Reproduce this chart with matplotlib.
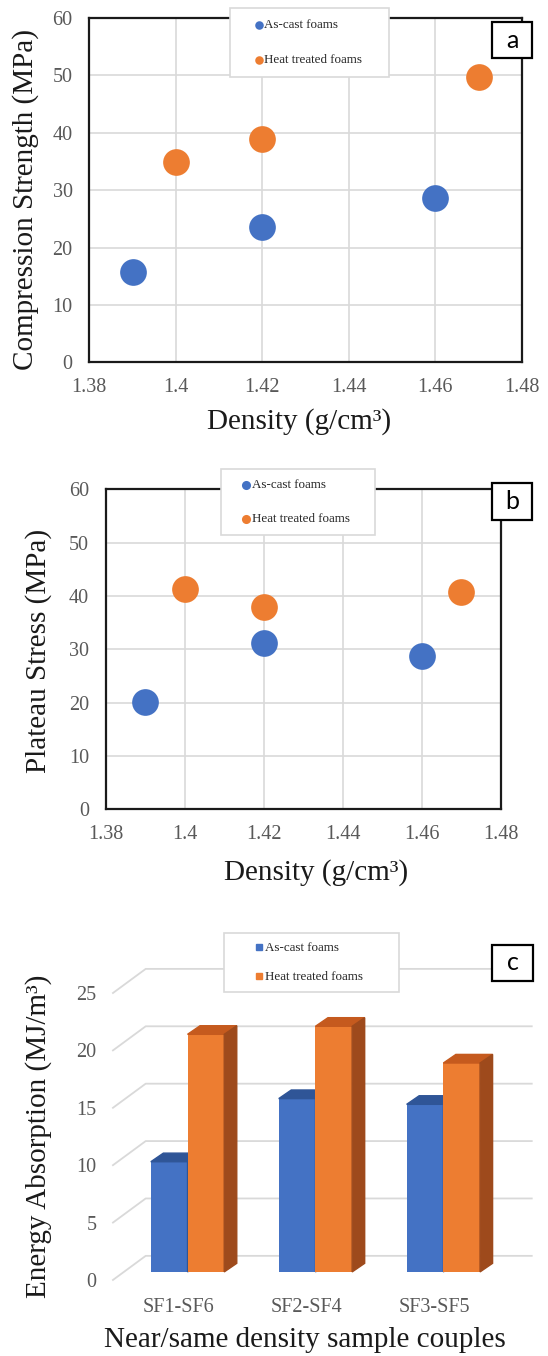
"""Foam density vs compression / plateau stress and energy absorption (3 panels)."""

import matplotlib

matplotlib.use("Agg")
import matplotlib.pyplot as plt
import numpy as np
from matplotlib.lines import Line2D
from matplotlib.patches import Polygon, Rectangle

# ---- data -----------------------------------------------------------------
density_cast = [1.39, 1.42, 1.46]
density_heat = [1.40, 1.42, 1.47]

strength_cast = [15.7, 23.5, 28.6]
strength_heat = [34.9, 39.0, 49.7]

plateau_cast = [20.2, 31.2, 28.8]
plateau_heat = [41.3, 38.0, 40.7]

couples = ["SF1-SF6", "SF2-SF4", "SF3-SF5"]
energy_cast = [9.6, 15.1, 14.6]
energy_heat = [20.7, 21.4, 18.2]

density_ticks = [1.38, 1.40, 1.42, 1.44, 1.46, 1.48]
density_tick_labels = ["1.38", "1.4", "1.42", "1.44", "1.46", "1.48"]
stress_ticks = [0, 10, 20, 30, 40, 50, 60]
energy_ticks = [0, 5, 10, 15, 20, 25]

labels = ["As-cast foams", "Heat treated foams"]

# ---- style ----------------------------------------------------------------
BLUE, BLUE_TOP = "#4472C4", "#2F5597"
ORANGE, ORANGE_TOP, ORANGE_SIDE = "#ED7D31", "#C55A1E", "#9E4A1C"
GRID = "#D9D9D9"
TICK = "#595959"
SERIF = "Liberation Serif"
TICK_FS = 14.5
LABEL_FS = 21
LEG_FS = 9.4

W, H, DPI = 548, 1356, 100
fig = plt.figure(figsize=(W / DPI, H / DPI), dpi=DPI)


def px_axes(left, top, right, bottom):
    return fig.add_axes([left / W, 1 - bottom / H, (right - left) / W, (bottom - top) / H])


def place_legend(ax, box, gap, marker_dx, text_dx, handles=None, markerscale=1.0):
    """Legend fitted into a pixel box (left, top, right, bottom)."""
    left, top, right, bottom = box
    fs = LEG_FS * DPI / 72
    text_h = 1.15 * fs
    ls = (gap - text_h) / fs
    bp = ((bottom - top) - 2 * text_h - ls * fs) / (2 * fs)
    hl = 2 * (marker_dx - bp * fs) / fs
    htp = (text_dx - bp * fs - hl * fs) / fs
    kw = dict(
        loc="upper left",
        bbox_to_anchor=(left / W, 1 - bottom / H, (right - left) / W, (bottom - top) / H),
        bbox_transform=fig.transFigure,
        mode="expand",
        borderaxespad=0,
        borderpad=bp,
        labelspacing=ls,
        handlelength=hl,
        handletextpad=htp,
        markerscale=markerscale,
        prop={"family": SERIF, "size": LEG_FS},
        labelcolor="#262626",
        frameon=True,
        fancybox=False,
        framealpha=1,
        edgecolor=GRID,
    )
    if handles is None:
        leg = ax.legend(**kw)
    else:
        leg = ax.legend(handles, labels, **kw)
    leg.get_frame().set_linewidth(1.2)
    leg.set_zorder(10)
    return leg


def panel_tag(text, box):
    left, top, right, bottom = box
    fig.patches.append(
        Rectangle(
            (left / W, 1 - bottom / H), (right - left) / W, (bottom - top) / H,
            transform=fig.transFigure, facecolor="white", edgecolor="black",
            linewidth=1.6, zorder=20,
        )
    )
    fig.text((left + right) / 2 / W, 1 - (top + bottom) / 2 / H, text,
             ha="center", va="center", fontsize=18, family="Lato", zorder=21)


def place_labels(ax, box, ylab_xy, xlab_xy):
    """Centre axis labels on given pixel positions."""
    left, top, right, bottom = box
    w, h = right - left, bottom - top
    ax.yaxis.set_label_coords((ylab_xy[0] - left) / w, (bottom - ylab_xy[1]) / h)
    ax.xaxis.set_label_coords((xlab_xy[0] - left) / w, (bottom - xlab_xy[1]) / h)
    ax.yaxis.label.set_va("center")
    ax.xaxis.label.set_va("center")


def scatter_panel(ax, y_cast, y_heat, ylabel):
    ax.scatter(density_cast, y_cast, s=370, color=BLUE, linewidths=0, label=labels[0], zorder=3)
    ax.scatter(density_heat, y_heat, s=370, color=ORANGE, linewidths=0, label=labels[1], zorder=3)
    ax.set_xlim(1.38, 1.48)
    ax.set_ylim(0, 60)
    ax.set_xticks(density_ticks, density_tick_labels)
    ax.set_yticks(stress_ticks)
    ax.grid(True, color=GRID, linewidth=1.2)
    ax.set_axisbelow(True)
    ax.tick_params(length=0, labelsize=TICK_FS, labelcolor=TICK)
    ax.tick_params(axis="y", pad=12)
    ax.tick_params(axis="x", pad=11)
    for lab in ax.get_xticklabels() + ax.get_yticklabels():
        lab.set_family(SERIF)
    for sp in ax.spines.values():
        sp.set_linewidth(1.6)
        sp.set_color("#1a1a1a")
    ax.set_ylabel(ylabel, family=SERIF, fontsize=LABEL_FS, color="#1a1a1a")
    ax.set_xlabel("Density (g/cm³)", family=SERIF, fontsize=LABEL_FS, color="#1a1a1a")


# ---- (a) compression strength ----------------------------------------------
box_a = (89.3, 18, 522, 362.3)
ax_a = px_axes(*box_a)
scatter_panel(ax_a, strength_cast, strength_heat, "Compression Strength (MPa)")
place_labels(ax_a, box_a, (26, 200), (299, 422))
place_legend(ax_a, (229.5, 8, 389, 83), 38, 29.4, 34.5, markerscale=0.32)
panel_tag("a", (492, 22, 532, 58))

# ---- (b) plateau stress ------------------------------------------------------
box_b = (105.7, 489.3, 500.7, 809.3)
ax_b = px_axes(*box_b)
scatter_panel(ax_b, plateau_cast, plateau_heat, "Plateau Stress (MPa)")
place_labels(ax_b, box_b, (39, 651), (316, 873))
place_legend(ax_b, (221, 469, 375, 541), 37, 25.3, 30.5, markerscale=0.34)
panel_tag("b", (492, 483, 532, 520))

# ---- (c) energy absorption, Excel-like 3D columns ----------------------------
box_c = (110.4, 964.3, 532.5, 1285.7)
ax_c = px_axes(*box_c)
ax_c.set_xlim(-0.53, 2.77)
ax_c.set_ylim(-0.5, 27.5)

wall_front, wall_back, wall_end, wall_rise = -0.51, -0.254, 2.764, 2.1
for v in energy_ticks:
    ax_c.plot([wall_front, wall_back, wall_end], [v, v + wall_rise, v + wall_rise],
              color=GRID, linewidth=1.3, zorder=1, clip_on=False)

x = np.arange(len(couples))
bar_w, shift, lift, dx, dy = 0.287, 0.073, 0.7, 0.098, 0.75
series = [
    (energy_cast, -bar_w, BLUE, BLUE_TOP, BLUE_TOP),
    (energy_heat, 0.0, ORANGE, ORANGE_TOP, ORANGE_SIDE),
]
for vals, off, front, top_c, side_c in series:
    lefts = x + shift + off
    ax_c.bar(lefts, vals, width=bar_w, bottom=lift, align="edge", color=front, zorder=3)
    for x0, v in zip(lefts, vals):
        y1 = lift + v
        ax_c.add_patch(Polygon([(x0, y1), (x0 + dx, y1 + dy), (x0 + bar_w + dx, y1 + dy),
                                (x0 + bar_w, y1)], closed=True, color=top_c, zorder=3))
        ax_c.add_patch(Polygon([(x0 + bar_w, lift), (x0 + bar_w + dx, lift + dy),
                                (x0 + bar_w + dx, y1 + dy), (x0 + bar_w, y1)],
                               closed=True, color=side_c, zorder=3))

ax_c.set_xticks(x, couples)
ax_c.set_yticks(energy_ticks)
ax_c.tick_params(length=0, labelsize=TICK_FS, labelcolor=TICK)
ax_c.tick_params(axis="y", pad=10)
ax_c.tick_params(axis="x", pad=9)
for lab in ax_c.get_xticklabels() + ax_c.get_yticklabels():
    lab.set_family(SERIF)
for sp in ax_c.spines.values():
    sp.set_visible(False)
ax_c.set_ylabel("Energy Absorption (MJ/m³)", family=SERIF, fontsize=LABEL_FS, color="#1a1a1a")
ax_c.set_xlabel("Near/same density sample couples", family=SERIF, fontsize=LABEL_FS,
                color="#1a1a1a")
place_labels(ax_c, box_c, (39, 1136), (305, 1340))

square_handles = [
    Line2D([], [], marker="s", linestyle="none", markersize=4.5, color=BLUE),
    Line2D([], [], marker="s", linestyle="none", markersize=4.5, color=ORANGE),
]
place_legend(ax_c, (224.3, 933, 398.5, 998), 32, 34.6, 40.7, handles=square_handles)
panel_tag("c", (492, 945, 533, 981))

fig.savefig("out.png", dpi=DPI)
plt.close(fig)
